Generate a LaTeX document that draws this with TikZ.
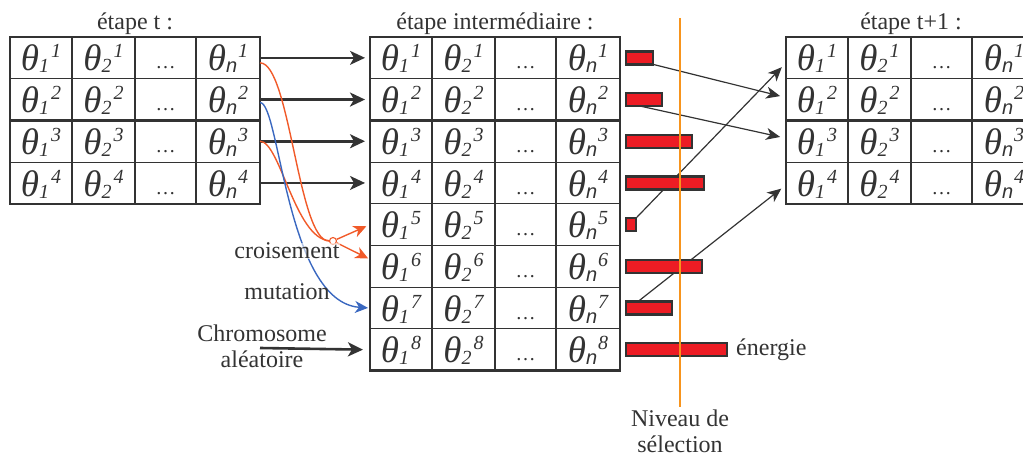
\documentclass[tikz,border=0pt]{standalone}
\usepackage{fontspec}
\setmainfont{Liberation Serif}
\setsansfont{Liberation Sans}
\usetikzlibrary{arrows.meta,positioning,backgrounds}
\definecolor{ink}{HTML}{333333}
\definecolor{crossred}{HTML}{F15A29}
\definecolor{mutblue}{HTML}{3A68C0}
\definecolor{barred}{HTML}{ED1C24}
\definecolor{selorange}{HTML}{F7941D}
\tikzset{
  cell/.style={draw=ink,line width=1.1pt,inner sep=0pt,outer sep=0pt,
    minimum height=41.7pt,text height=34pt,text depth=7.7pt,text=ink,font=\itshape},
  frame/.style={draw=ink,line width=2.4pt},
  txt/.style={text=ink,inner sep=0pt,font=\fontsize{24}{26}\selectfont,align=center},
  bar/.style={draw=ink,fill=barred,line width=2.4pt,minimum height=13pt,inner sep=0pt,outer sep=0pt},
  copy/.style={-{Stealth[length=15pt,width=14pt,inset=4pt]},draw=ink,shorten >=5pt},
  xline/.style={draw=crossred,line width=1.4pt},
  mline/.style={draw=mutblue,line width=1.4pt},
  pick/.style={-{Stealth[length=14pt,width=12pt,inset=4pt]},draw=ink,line width=1.2pt,shorten >=6pt},
}
\newcommand{\gene}[2]{{\fontsize{37}{37}\selectfont θ}%
  \rlap{\raisebox{-2pt}{\fontsize{20}{20}\selectfont #1}}\kern12pt%
  \raisebox{13pt}{\fontsize{20}{20}\selectfont #2}}
\newcommand{\popul}[3]{%
  \foreach \r in {1,...,#3} {
    \node[cell,minimum width=62] (#1-1-\r) at ({#2+31},{16.15+41.7*\r}) {\gene{1}{\r}};
    \node[cell,minimum width=63] (#1-2-\r) at ({#2+93.5},{16.15+41.7*\r}) {\gene{2}{\r}};
    \node[cell,minimum width=61] (#1-d-\r) at ({#2+155.5},{16.15+41.7*\r})
      {\raisebox{2pt}{\upshape\fontsize{20}{20}\selectfont …}};
    \node[cell,minimum width=64] (#1-n-\r) at ({#2+218},{16.15+41.7*\r}) {\gene{\textsf{n}}{\r}};
  }
  \draw[frame] (#1-1-1.north west) rectangle (#1-n-#3.south east);
  \draw[frame] (#1-n-1.north west) -- (#1-n-#3.south west);
  \draw[frame] (#1-1-2.south west) -- (#1-n-2.south east);
}

\begin{document}
\begin{tikzpicture}[x=1pt,y=-1pt]
  \useasboundingbox (0,0) rectangle (1023,457);
  \clip (0,0) rectangle (1023,457);
  % populations
  \popul{L}{10}{4}
  \popul{M}{370}{8}
  \popul{R}{786}{4}
  \node[txt,anchor=base] (tL) at ([yshift=7pt]L-2-1.north east) {étape t :};
  \node[txt,anchor=base] (tM) at ([yshift=7pt]M-2-1.north east) {étape intermédiaire :};
  \node[txt,anchor=base] (tR) at ([yshift=7pt]R-2-1.north east) {étape t+1 :};
  % copies
  \foreach \r/\w in {1/1.6,2/2.6,3/2.6,4/1.6}
    \draw[copy,line width=\w pt] (L-n-\r.east) -- (M-1-\r.west);
  % crossover and mutation
  \node[circle,draw=crossred,fill=white,line width=1.1pt,inner sep=0pt,minimum size=7pt] (X) at (333,241) {};
  \draw[xline] ([yshift=-5pt]L-n-1.east) .. controls +(30,0) and +(-35,0) .. (X);
  \draw[xline] (L-n-3.east) .. controls +(20,0) and +(-38,-3) .. (X);
  \draw[xline,-{Stealth[length=13pt,width=12pt,inset=4pt]},shorten >=4pt] (X) -- (M-1-5.west);
  \draw[xline,-{Stealth[length=13pt,width=12pt,inset=4pt]},shorten >=2pt] (X) -- ([yshift=7pt]M-1-6.west);
  \draw[mline,-{Stealth[length=13pt,width=12pt,inset=4pt]},shorten >=2pt]
    ([yshift=-3pt]L-n-2.east) .. controls +(20,0) and +(-84,-6) .. (M-1-7.west);
  \node[txt,fill=white,fill opacity=0.6,text opacity=1] (cross) at (287,251) {croisement};
  \node[txt] (mut) at (287,292) {mutation};
  \node[txt] (rnd) at (262,346) {Chromosome\\aléatoire};
  \coordinate (rndtail) at (260,348);
  \draw[copy,line width=2.6pt,shorten >=7pt] (rndtail) -- (M-1-8.west);
  % energies
  \foreach \r/\w in {1/27,2/36,3/66,4/78,5/10,6/76,7/46,8/101}
    \node[bar,minimum width=\w pt,right=6pt of M-n-\r] (bar\r) {};
  \begin{pgfonlayer}{background}
    \draw[pick] (bar1.south east) -- ([yshift=2pt]R-1-2.west);
    \draw[pick] ([xshift=14pt]bar2.south west) -- ([yshift=3pt]R-1-3.west);
    \draw[pick] (bar5.north east) -- ([yshift=-5pt]R-1-1.west);
    \draw[pick] ([xshift=12pt]bar7.north west) -- ([yshift=-2pt]R-1-4.west);
  \end{pgfonlayer}
  \node[txt,right=9pt of bar8] (nrj) {énergie};
  % selection level
  \coordinate (seltop) at (680,18);
  \node[txt,anchor=north] (sel) at (680,410) {Niveau de\\sélection};
  \draw[selorange,line width=2pt] (seltop) -- ([yshift=3pt]sel.north);
\end{tikzpicture}
\end{document}
